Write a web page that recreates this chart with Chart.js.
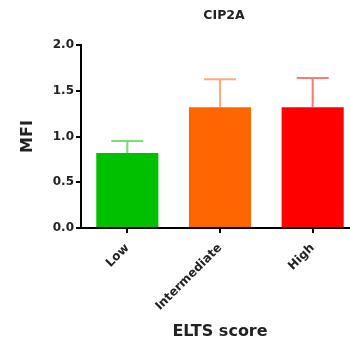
<!DOCTYPE html>
<html>
<head>
<meta charset="utf-8">
<script src="https://cdn.jsdelivr.net/npm/chart.js@4"></script>
<style>
  html, body { margin: 0; padding: 0; overflow: hidden; background: #fff; }
</style>
</head>
<body>
<canvas id="myBarChart" width="359" height="343"></canvas>
<script>
var categories = ['Low', 'Intermediate', 'High'];
var means = [0.82, 1.32, 1.32];
var sems = [0.13, 0.305, 0.32];
var yTicks = [0, 0.5, 1.0, 1.5, 2.0];

var barColors = ['#00c000', '#ff6600', '#ff0000'];
var errColors = ['#77dd77', '#ffaa77', '#ff7777'];
var textColor = '#222';
var fontFamily = '"DejaVu Sans", sans-serif';

// draws the upper error bars on top of each bar
var errorBars = {
    id: 'errorBars',
    afterDatasetsDraw: function(chart) {
        var ctx = chart.ctx;
        var y = chart.scales.y;
        var meta = chart.getDatasetMeta(0);
        ctx.save();
        meta.data.forEach(function(bar, i) {
            var top = y.getPixelForValue(means[i] + sems[i]);
            ctx.strokeStyle = errColors[i];
            ctx.lineWidth = 2;
            ctx.beginPath();
            ctx.moveTo(bar.x, bar.y);
            ctx.lineTo(bar.x, top);
            ctx.moveTo(bar.x - 16, top);
            ctx.lineTo(bar.x + 16, top);
            ctx.stroke();
        });
        ctx.restore();
    }
};

// title centred over the plot area
var plotTitle = {
    id: 'plotTitle',
    afterDraw: function(chart) {
        var ctx = chart.ctx;
        var a = chart.chartArea;
        ctx.save();
        ctx.font = 'bold 12.5px ' + fontFamily;
        ctx.fillStyle = textColor;
        ctx.textAlign = 'center';
        ctx.textBaseline = 'middle';
        ctx.fillText('CIP2A', (a.left + a.right) / 2 + 4, 16);
        ctx.restore();
    }
};

var ctx = document.getElementById('myBarChart');
var myBarChart = new Chart(ctx, {
    type: 'bar',
    data: {
        labels: categories,
        datasets: [{
            data: means,
            backgroundColor: barColors,
            borderWidth: 0,
            categoryPercentage: 1.0,
            barPercentage: 0.67
        }]
    },
    options: {
        responsive: false,
        animation: false,
        layout: { padding: { top: 45, left: 0, right: 0, bottom: 0 } },
        plugins: {
            legend: { display: false },
            tooltip: { enabled: false }
        },
        scales: {
            x: {
                grid: { display: true, drawOnChartArea: false, offset: false, color: '#000', lineWidth: 2, tickLength: 5 },
                border: { display: true, color: '#000', width: 2 },
                ticks: {
                    color: textColor,
                    font: { family: fontFamily, size: 12, weight: 'bold' },
                    minRotation: 45,
                    maxRotation: 45,
                    padding: 8
                },
                title: {
                    display: true,
                    text: 'ELTS score',
                    color: textColor,
                    font: { family: fontFamily, size: 16, weight: 'bold' },
                    padding: { top: 0, bottom: 2 }
                },
                afterFit: function(scale) { scale.height = 115; }
            },
            y: {
                min: 0,
                max: 2,
                grid: { display: true, drawOnChartArea: false, color: '#000', lineWidth: 2, tickLength: 5 },
                border: { display: true, color: '#000', width: 2 },
                afterBuildTicks: function(scale) {
                    scale.ticks = yTicks.map(function(v) { return { value: v }; });
                },
                ticks: {
                    color: textColor,
                    font: { family: fontFamily, size: 12, weight: 'bold' },
                    padding: 2,
                    callback: function(v) { return Number(v).toFixed(1); }
                },
                title: {
                    display: true,
                    text: 'MFI',
                    color: textColor,
                    font: { family: fontFamily, size: 16, weight: 'bold' },
                    padding: { top: 18, bottom: 0 }
                },
                afterFit: function(scale) { scale.width = 81; }
            }
        }
    },
    plugins: [errorBars, plotTitle]
});
</script>
</body>
</html>
